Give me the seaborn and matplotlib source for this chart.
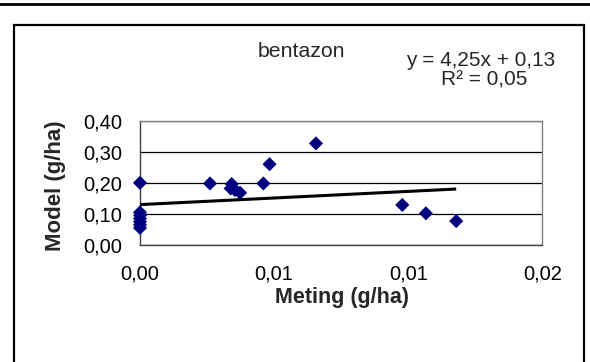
import matplotlib
matplotlib.use("Agg")
import matplotlib.pyplot as plt
import seaborn as sns
import pandas as pd
import numpy as np
from matplotlib.patches import Rectangle
from matplotlib.lines import Line2D

# ---- data ----
meting = [0.0, 0.0, 0.0, 0.0, 0.0, 0.0, 0.0,
          0.00261, 0.00342, 0.00338, 0.00354, 0.00373, 0.00460, 0.00483,
          0.00656, 0.00978, 0.01066, 0.01179]
model = [0.200, 0.105, 0.095, 0.085, 0.075, 0.065, 0.055,
         0.198, 0.196, 0.182, 0.177, 0.168, 0.198, 0.260,
         0.327, 0.129, 0.102, 0.077]
trend_slope = 4.25
trend_intercept = 0.13
x_ticks = [0.0, 0.005, 0.010, 0.015]
x_tick_labels = ["0,00", "0,01", "0,01", "0,02"]
y_ticks = [0.0, 0.1, 0.2, 0.3, 0.4]
y_tick_labels = ["0,00", "0,10", "0,20", "0,30", "0,40"]
title = "bentazon"
eq_line1 = "y = 4,25x + 0,13"
eq_line2 = "R² = 0,05"
x_label = "Meting (g/ha)"
y_label = "Model (g/ha)"

df = pd.DataFrame({"Meting": meting, "Model": model})

sns.set_style("white")
plt.rcParams["font.family"] = ["Liberation Sans", "DejaVu Sans"]

W, H = 590, 362
fig = plt.figure(figsize=(W / 100, H / 100), dpi=100)
fig.patch.set_facecolor("white")

def fx(px):
    return px / W

def fy(py):
    return 1 - py / H

ax = fig.add_axes([fx(140), fy(245), fx(542.3) - fx(140), fy(120.7) - fy(245)])

ax.set_xlim(0, 0.015)
ax.set_ylim(0, 0.4)
ax.set_yticks(y_ticks)
ax.set_yticklabels(y_tick_labels)
ax.set_xticks(x_ticks)
ax.set_xticklabels(x_tick_labels)
ax.yaxis.grid(True, color="black", linewidth=0.9)
ax.set_axisbelow(True)

sns.scatterplot(data=df, x="Meting", y="Model", marker="D", s=52,
                color="#000080", edgecolor="none", linewidth=0, ax=ax,
                zorder=3, clip_on=False)

xs = np.array([0.0, max(meting)])
ax.plot(xs, trend_intercept + trend_slope * xs, color="black",
        linewidth=2.2, solid_capstyle="butt", zorder=4)

for side in ["top", "right"]:
    ax.spines[side].set_color("#808080")
    ax.spines[side].set_linewidth(1.0)
for side in ["left", "bottom"]:
    ax.spines[side].set_color("#404040")
    ax.spines[side].set_linewidth(1.0)
    ax.spines[side].set_visible(True)

ax.tick_params(axis="both", which="major", direction="out", length=5,
               width=1, color="#404040", labelsize=14.5, labelcolor="black")
ax.tick_params(axis="y", pad=8)
ax.tick_params(axis="x", pad=9)

ax.set_xlabel(x_label, fontsize=15.5, fontweight="bold", va="center", ha="center")
ax.set_ylabel(y_label, fontsize=16, fontweight="bold", va="center", ha="center")
ax.xaxis.set_label_coords((342 - 140) / 402.3, (245 - 298) / 124.3)
ax.yaxis.set_label_coords((56 - 140) / 402.3, (245 - 186) / 124.3)

fig.text(fx(301), fy(57.3), title, ha="center", va="baseline", fontsize=15.3)
fig.text(fx(481), fy(66), eq_line1, ha="center", va="baseline", fontsize=15)
fig.text(fx(484), fy(85.5), eq_line2, ha="center", va="baseline", fontsize=15)

# outer chart box
fig.add_artist(Rectangle((fx(14), fy(380)), fx(584) - fx(14), fy(25) - fy(380),
                         transform=fig.transFigure, fill=False,
                         edgecolor="black", linewidth=1.6, clip_on=False))
# top rule
fig.add_artist(Line2D([0, 1], [fy(4), fy(4)], transform=fig.transFigure,
                      color="black", linewidth=2.0))

fig.savefig("out.png", dpi=100)
